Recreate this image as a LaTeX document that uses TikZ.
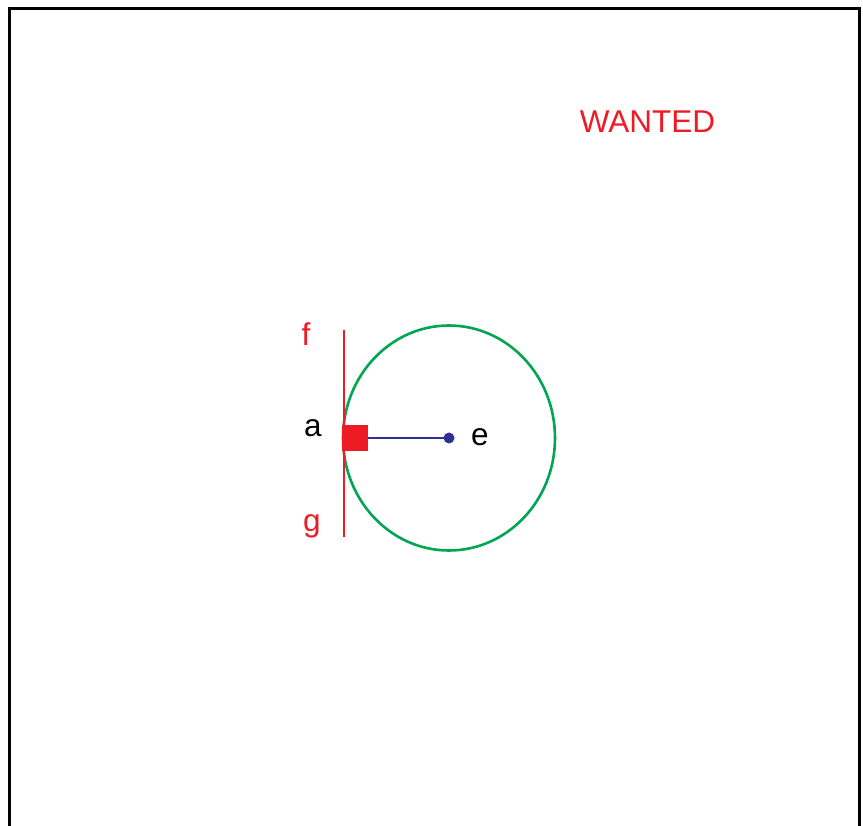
\documentclass[tikz,border=0pt]{standalone}
\usepackage{fontspec}
\setmainfont{Liberation Sans}
\definecolor{myred}{HTML}{ED1C24}
\definecolor{mygreen}{HTML}{00A651}
\definecolor{myblue}{HTML}{2E3192}
\begin{document}
\begin{tikzpicture}[x=1pt,y=-1pt,
  lbl/.style={inner sep=0pt,font=\fontsize{31.5}{36}\selectfont},
  redlbl/.style={lbl,text=myred}]
\useasboundingbox (0,0) rectangle (863,826);
\fill[white] (0,0) rectangle (863,826);
% frame
\draw[line width=3pt] (9,826) -- (9,8.5) -- (859,8.5) -- (859,826);
% title
\node[redlbl] (title) at (647.5,121.5) {WANTED};
% circle
\coordinate (e) at (449,438);
\draw[mygreen,line width=2.6pt] (e) ellipse [x radius=106, y radius=112.5];
% tangent line
\coordinate (ftop) at (344,330);
\coordinate (gbot) at (344,537);
\draw[myred,line width=2.6pt] (ftop) -- (gbot);
% square and radius
\node[fill=myred,minimum size=26pt,inner sep=0pt] (a) at (355,438) {};
\node[circle,fill=myblue,minimum size=11pt,inner sep=0pt] (edot) at (e) {};
\draw[myblue,line width=2.7pt] (a.east) -- (edot.center);
% labels
\node[redlbl,anchor=base] (flbl) at (306,346) {f};
\node[lbl,anchor=base] (albl) at (313,437) {a};
\node[lbl,anchor=base] (elbl) at (480,446) {e};
\node[redlbl,anchor=base] (glbl) at (312,531) {g};
\end{tikzpicture}
\end{document}
